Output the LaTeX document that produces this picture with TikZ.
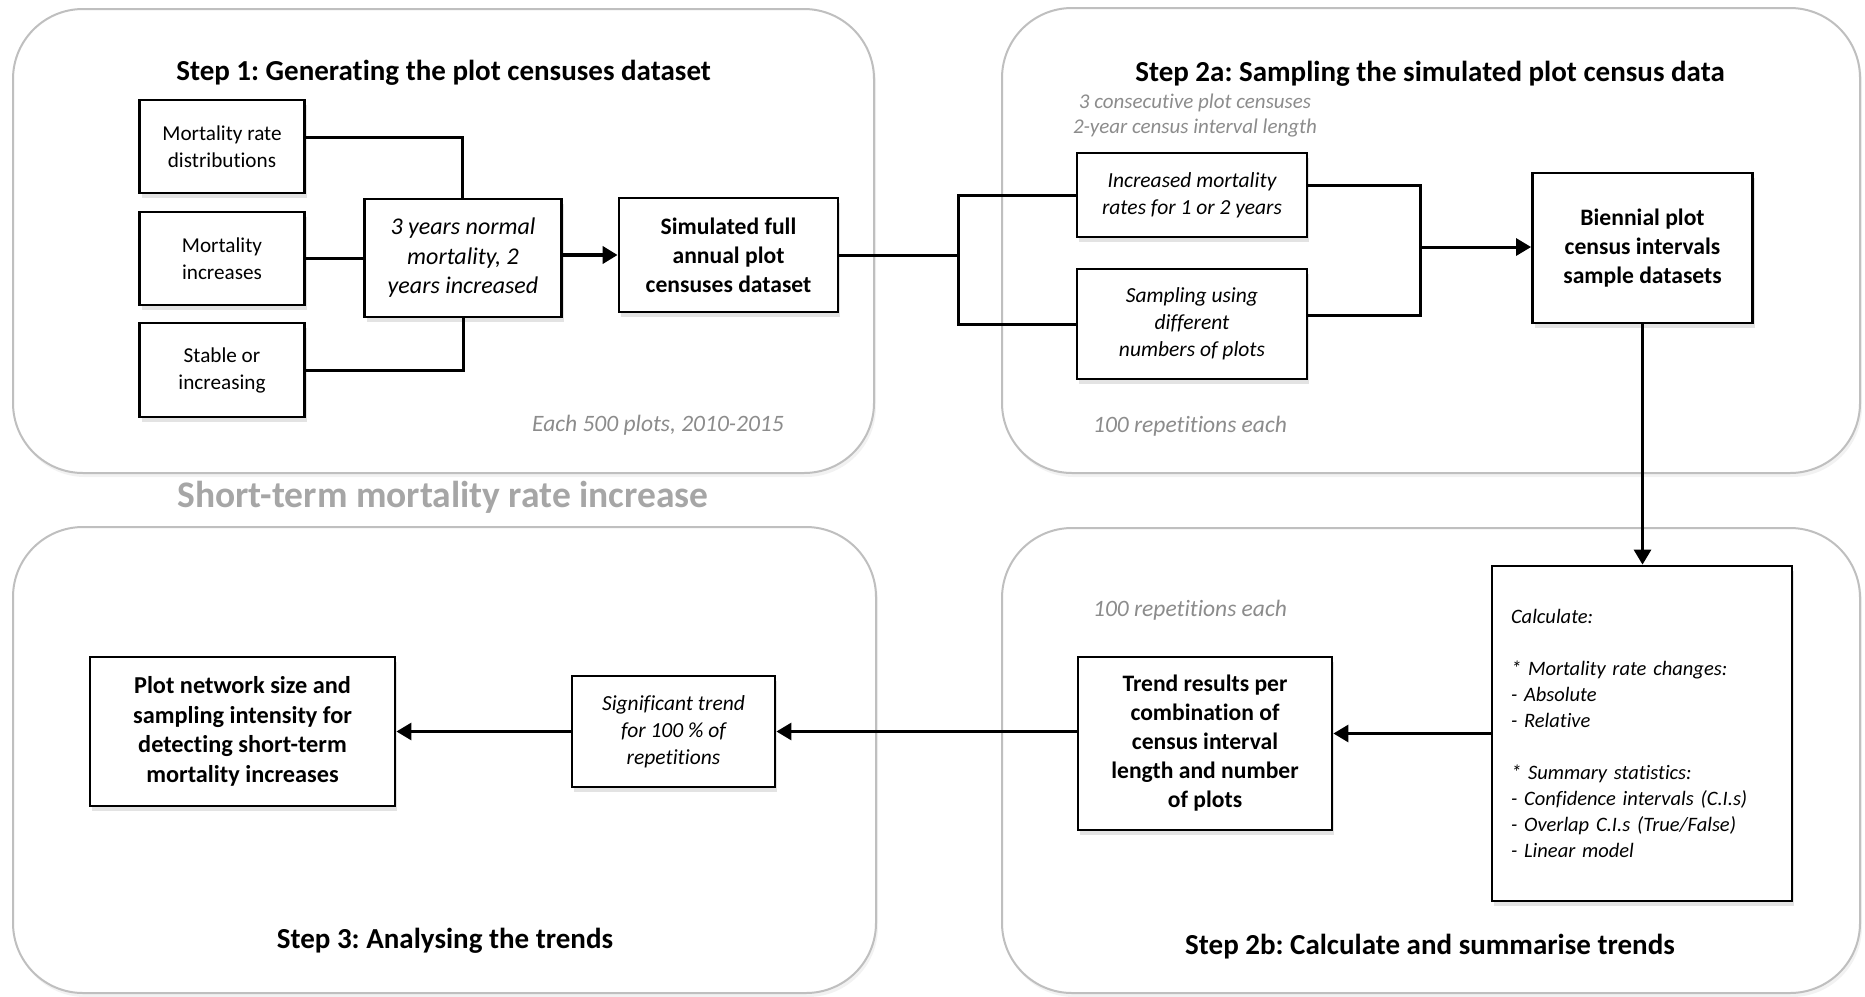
\documentclass[tikz,border=0pt]{standalone}
\usepackage{fontspec}
\setmainfont{Carlito}[Ligatures={NoCommon}]
\frenchspacing
\usetikzlibrary{arrows.meta,shadows,calc}
\definecolor{panelgrey}{HTML}{BFBFBF}
\definecolor{notegrey}{HTML}{8C8C8C}
\definecolor{subgrey}{HTML}{A6A6A6}
\begin{document}
\begin{tikzpicture}[x=1pt,y=-1pt,
  panel/.style={draw=panelgrey, line width=2pt, rounded corners=70pt, fill=white, inner sep=0pt,
    drop shadow={opacity=0.10,shadow xshift=2pt,shadow yshift=-4pt}},
  box/.style={draw=black, line width=2.8pt, fill=white, align=center, inner sep=0pt,
    drop shadow={opacity=0.22,shadow xshift=2pt,shadow yshift=-5pt}},
  nrm/.style={font=\fontsize{21.2}{27}\selectfont},
  itl/.style={font=\fontsize{21.5}{27}\selectfont\itshape},
  bigitl/.style={font=\fontsize{24}{29.5}\selectfont\itshape},
  bld/.style={font=\fontsize{23.6}{29}\selectfont\bfseries},
  ttl/.style={font=\fontsize{29}{34}\selectfont\bfseries},
  note/.style={text=notegrey, align=center, inner sep=0pt},
  conn/.style={line width=3pt},
  arr/.style={line width=3pt, -{Triangle[length=15pt,width=17pt]}},
  tarr/.style={line width=4.5pt, -{Triangle[length=15pt,width=17pt]}}
]
\useasboundingbox (0,0) rectangle (1865,996);

% panels
\node[panel, minimum width=861pt, minimum height=464pt] (p1) at (443.5,241) {};
\node[panel, minimum width=858pt, minimum height=465pt] (p2) at (1431,240.5) {};
\node[panel, minimum width=863pt, minimum height=466pt] (p3) at (444.5,760) {};
\node[panel, minimum width=858pt, minimum height=465pt] (p4) at (1431,760.5) {};

% titles
\node[ttl, inner sep=0pt] (t1) at (443.6,73) {Step 1: Generating the plot censuses dataset};
\node[ttl, inner sep=0pt] (t2a) at (1430,74) {Step 2a: Sampling the simulated plot census data};
\node[ttl, inner sep=0pt] (t2b) at (1430,947) {Step 2b: Calculate and summarise trends};
\node[ttl, inner sep=0pt] (t3) at (445,941) {Step 3: Analysing the trends};
\node[font=\fontsize{37.5}{42}\selectfont\bfseries, text=subgrey, inner sep=0pt] (st) at (443,497) {Short-term mortality rate increase};

% notes
\node[note, font=\fontsize{23.5}{27}\selectfont\itshape] (n500) at (658,425) {Each 500 plots, 2010-2015};
\node[note, font=\fontsize{21}{25}\selectfont\itshape] (ncons) at (1195,115.5) {3 consecutive plot censuses\\2-year census interval length};
\node[note, font=\fontsize{23.5}{26}\selectfont\itshape] (nrep1) at (1190,426) {100 repetitions each};
\node[note, font=\fontsize{23.5}{26}\selectfont\itshape] (nrep2) at (1190,610) {100 repetitions each};

% step 1 boxes
\node[box, nrm, minimum width=165pt, minimum height=93pt] (mrd) at (222,146.5) {Mortality rate\\distributions};
\node[box, nrm, minimum width=165pt, minimum height=93pt] (mi) at (222,258.5) {Mortality\\increases};
\node[box, nrm, minimum width=165pt, minimum height=94pt] (stab) at (222,370) {Stable or\\increasing};
\node[box, bigitl, minimum width=197pt, minimum height=118pt] (three) at (463,258) {3 years normal\\mortality, 2\\years increased};
\node[box, bld, minimum width=219pt, minimum height=114pt] (sim) at (728.5,255) {Simulated full\\annual plot\\censuses dataset};

% step 2a boxes
\node[box, itl, minimum width=230pt, minimum height=84pt] (inc) at (1192,195) {Increased mortality\\rates for 1 or 2 years};
\node[box, itl, minimum width=230pt, minimum height=110pt] (samp) at (1192,324) {Sampling using\\different\\numbers of plots};
\node[box, bld, minimum width=220pt, minimum height=150pt] (bien) at (1642.5,248) {Biennial plot\\census intervals\\sample datasets};

% step 2b boxes
\node[box, font=\fontsize{20.5}{26}\selectfont\itshape, align=left, text width=262pt, inner xsep=19pt, minimum height=335pt] (calc) at (1642,733.5)
 {Calculate:\\[26pt]* Mortality rate changes:\\- Absolute\\- Relative\\[26pt]* Summary statistics:\\- Confidence intervals (C.I.s)\\- Overlap C.I.s (True/False)\\- Linear model};
\node[box, bld, minimum width=254pt, minimum height=173pt] (trend) at (1205,743.5) {Trend results per\\combination of\\census interval\\length and number\\of plots};

% step 3 boxes
\node[box, itl, minimum width=203pt, minimum height=111pt] (sig) at (673.5,731.5) {Significant trend\\for 100 \% of\\repetitions};
\node[box, bld, font=\fontsize{24.3}{29.5}\selectfont\bfseries, minimum width=305pt, minimum height=149pt] (plotnet) at (242.5,731.5) {Plot network size and\\sampling intensity for\\detecting short-term\\mortality increases};

% connectors step 1
\coordinate (j1) at (462,137);
\draw[conn] (j1 -| mrd.east) -- (j1) -- (j1 |- three.north);
\draw[conn] (mi.east) -- (mi.east -| three.west);
\draw[conn] (stab.east) -| (three.south);
\draw[tarr] (three.east |- sim.west) -- (sim.west);

% split to step 2a
\coordinate (split) at (958,255);
\draw[conn] (sim.east) -- (split);
\draw[conn] (inc.west) -| (split);
\draw[conn] (samp.west) -| (split);

% merge to biennial
\coordinate (m1) at (1420,185);
\coordinate (m2) at (1420,315);
\coordinate (merge) at (1420,247);
\draw[conn] (m1 -| inc.east) -- (m1) -- (m2) -- (m2 -| samp.east);
\draw[arr] (merge) -- (merge -| bien.west);

% down to calculate
\draw[arr] (bien.south) -- (bien.south |- calc.north);

% step 2b -> step 3
\draw[arr] (calc.west) -- (calc.west -| trend.east);
\draw[arr] (sig.east -| trend.west) -- (sig.east);
\draw[arr] (sig.west) -- (plotnet.east);
\end{tikzpicture}
\end{document}
